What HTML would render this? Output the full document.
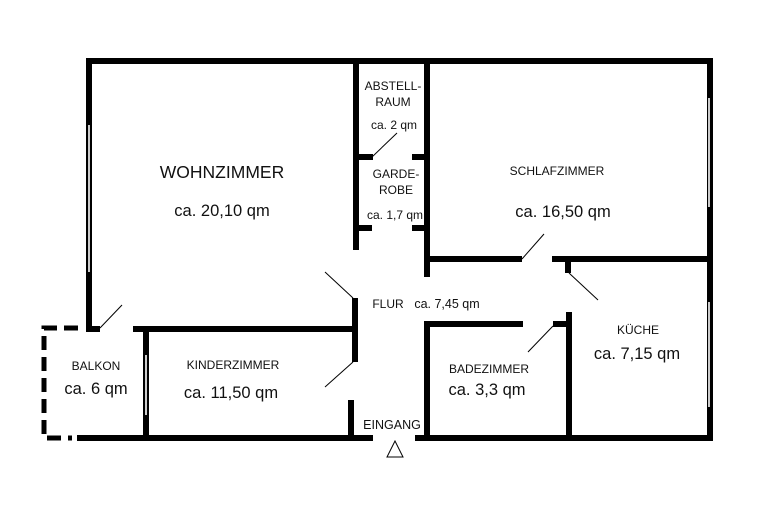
<!DOCTYPE html>
<html><head><meta charset="utf-8"><style>
html,body{margin:0;padding:0;background:#fff;}
svg{display:block}
text{font-family:"Liberation Sans",sans-serif;fill:#111;text-anchor:middle}
</style></head><body>
<svg width="758" height="505" viewBox="0 0 758 505" xmlns="http://www.w3.org/2000/svg">
<g stroke="#000" stroke-width="6" fill="none" stroke-linecap="butt">
<line x1="86" y1="61" x2="713" y2="61"/>
<line x1="89" y1="58" x2="89" y2="331"/>
<line x1="710" y1="58" x2="710" y2="441"/>
<line x1="77" y1="438" x2="373" y2="438"/>
<line x1="415" y1="438" x2="713" y2="438"/>
<line x1="86" y1="329" x2="100" y2="329"/>
<line x1="133" y1="329" x2="358" y2="329"/>
<line x1="146" y1="329" x2="146" y2="438"/>
<line x1="356" y1="58" x2="356" y2="250"/>
<line x1="355" y1="298" x2="355" y2="362"/>
<line x1="351" y1="400" x2="351" y2="438"/>
<line x1="356" y1="157" x2="373" y2="157"/>
<line x1="412" y1="157" x2="428" y2="157"/>
<line x1="356" y1="228" x2="372" y2="228"/>
<line x1="412" y1="228" x2="428" y2="228"/>
<line x1="427" y1="58" x2="427" y2="277"/>
<line x1="424" y1="259" x2="522" y2="259"/>
<line x1="552" y1="259" x2="710" y2="259"/>
<line x1="568" y1="259" x2="568" y2="273"/>
<line x1="424" y1="324" x2="523" y2="324"/>
<line x1="553" y1="324" x2="572" y2="324"/>
<line x1="427" y1="321" x2="427" y2="438"/>
<line x1="569" y1="312" x2="569" y2="438"/>
</g>
<g stroke="#000" stroke-width="5" fill="none">
<path d="M78 328 H44 V438 H72" stroke-dasharray="14,7"/>
</g>
<g stroke="#fff" stroke-width="1.6">
<line x1="89" y1="125" x2="89" y2="272"/>
<line x1="146" y1="355" x2="146" y2="415"/>
<line x1="709" y1="98" x2="709" y2="207"/>
<line x1="709" y1="302" x2="709" y2="407"/>
</g>
<g stroke="#000" stroke-width="1">
<line x1="372" y1="157" x2="397" y2="133"/>
<line x1="325" y1="272" x2="353" y2="298"/>
<line x1="100" y1="328" x2="122" y2="305"/>
<line x1="325" y1="387" x2="353" y2="362"/>
<line x1="522" y1="259" x2="544" y2="234"/>
<line x1="569" y1="273" x2="598" y2="300"/>
<line x1="553" y1="326" x2="528" y2="352"/>
</g>
<polygon points="395,441 387,457 403,457" fill="none" stroke="#000" stroke-width="1"/>
<text x="222" y="178" font-size="17.5">WOHNZIMMER</text>
<text x="222" y="216" font-size="16.5">ca. 20,10 qm</text>
<text x="393" y="90" font-size="12">ABSTELL-</text>
<text x="393" y="106" font-size="12">RAUM</text>
<text x="394" y="129" font-size="12">ca. 2 qm</text>
<text x="396" y="178" font-size="12">GARDE-</text>
<text x="396" y="194" font-size="12">ROBE</text>
<text x="395" y="219" font-size="12">ca. 1,7 qm</text>
<text x="557" y="175" font-size="12">SCHLAFZIMMER</text>
<text x="563" y="217" font-size="16.5">ca. 16,50 qm</text>
<text x="388" y="308" font-size="12">FLUR</text>
<text x="447" y="308" font-size="12.5">ca. 7,45 qm</text>
<text x="638" y="334" font-size="12">KÜCHE</text>
<text x="637" y="359" font-size="16.5">ca. 7,15 qm</text>
<text x="489" y="373" font-size="12">BADEZIMMER</text>
<text x="487" y="395" font-size="16.5">ca. 3,3 qm</text>
<text x="233" y="369" font-size="12">KINDERZIMMER</text>
<text x="231" y="398" font-size="16.5">ca. 11,50 qm</text>
<text x="96" y="370" font-size="12">BALKON</text>
<text x="96" y="394" font-size="16.5">ca. 6 qm</text>
<text x="392" y="429" font-size="12.5">EINGANG</text>
</svg>
</body></html>
